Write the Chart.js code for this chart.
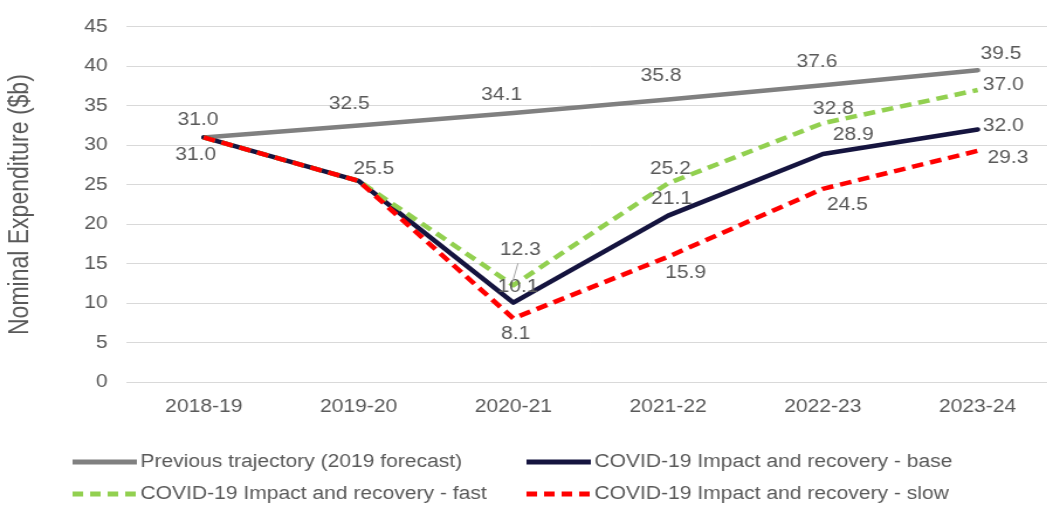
<!DOCTYPE html>
<html>
<head>
<meta charset="utf-8">
<script src="https://cdn.jsdelivr.net/npm/chart.js@4/dist/chart.umd.min.js"></script>
<style>
    html, body { margin: 0; padding: 0; background: #fff; overflow: hidden; }
    /* the reference is horizontally stretched, so draw narrow and scale it out */
    #wrap {
        position: absolute; left: 0; top: 0;
        width: 904px; height: 507px;
        transform: scaleX(1.17);
        transform-origin: 0 0;
    }
</style>
</head>
<body>
<div id="wrap"><canvas id="chart"></canvas></div>
<script>
// ── DATA ──
const categories = ['2018-19', '2019-20', '2020-21', '2021-22', '2022-23', '2023-24'];
const previous   = [31.0, 32.5, 34.1, 35.8, 37.6, 39.5];
const base       = [31.0, 25.5, 10.1, 21.1, 28.9, 32.0];
const fast       = [31.0, 25.5, 12.3, 25.2, 32.8, 37.0];
const slow       = [31.0, 25.5,  8.1, 15.9, 24.5, 29.3];
const yTicks     = [0, 5, 10, 15, 20, 25, 30, 35, 40, 45];

const seriesNames = [
    'Previous trajectory (2019 forecast)',
    'COVID-19 Impact and recovery - base',
    'COVID-19 Impact and recovery - fast',
    'COVID-19 Impact and recovery - slow'
];

// ── LABEL PLACEMENT (offset from the point, null = no label) ──
const labelOffsets = [
    [[-5, -17], [-8, -22], [-10, -18], [-6, -23], [-5, -23], [20, -16]],
    [[-7, 18], [13, -12], [4, -16], [3, -17], [26, -19], [22, -3]],
    [null, null, [6, -35], [2, -14], [9, -14], [22, -5]],
    [null, null, [2, 16], [15, 16], [21, 16], [26, 7]]
];
const leaderLines = { '2-2': true };

const TEXT = '#595959';
const FONT = 'Liberation Sans, Arial, sans-serif';

const dataLabels = {
    id: 'dataLabels',
    afterDatasetsDraw(chart) {
        const ctx = chart.ctx;
        ctx.save();
        ctx.font = '18px ' + FONT;
        ctx.fillStyle = TEXT;
        ctx.textAlign = 'center';
        ctx.textBaseline = 'middle';
        chart.data.datasets.forEach((ds, di) => {
            const meta = chart.getDatasetMeta(di);
            meta.data.forEach((pt, i) => {
                const off = labelOffsets[di][i];
                if (!off) return;
                const x = pt.x + off[0], y = pt.y + off[1];
                if (leaderLines[di + '-' + i]) {
                    ctx.strokeStyle = '#a6a6a6';
                    ctx.lineWidth = 1;
                    ctx.beginPath();
                    ctx.moveTo(x - 2, y + 13);
                    ctx.lineTo(pt.x - 0.5, pt.y - 4);
                    ctx.stroke();
                }
                ctx.fillText(ds.data[i].toFixed(1), x, y);
            });
        });
        ctx.restore();
    }
};

// legend in two columns, drawn under the axis
const gridLegend = {
    id: 'gridLegend',
    afterDraw(chart) {
        const ctx = chart.ctx;
        const cols = [62, 450];
        const rows = [462, 494];
        ctx.save();
        ctx.font = '18px ' + FONT;
        ctx.fillStyle = TEXT;
        ctx.textBaseline = 'middle';
        ctx.textAlign = 'left';
        chart.data.datasets.forEach((ds, i) => {
            const x = cols[i % 2], y = rows[Math.floor(i / 2)];
            ctx.strokeStyle = ds.borderColor;
            ctx.lineWidth = 5;
            ctx.setLineDash(ds.borderDash.length ? [9, 6] : []);
            ctx.lineCap = 'butt';
            ctx.beginPath();
            ctx.moveTo(x, y);
            ctx.lineTo(x + 55, y);
            ctx.stroke();
            ctx.setLineDash([]);
            ctx.fillText(ds.label, x + 58, y);
        });
        ctx.restore();
    }
};

function line(label, data, color, dash, order) {
    return {
        label,
        data,
        borderColor: color,
        backgroundColor: color,
        borderWidth: 4.5,
        borderDash: dash,
        borderCapStyle: dash.length ? 'butt' : 'round',
        borderJoinStyle: 'round',
        pointRadius: 0,
        tension: 0,
        order
    };
}

new Chart(document.getElementById('chart'), {
    type: 'line',
    data: {
        labels: categories,
        datasets: [
            line(seriesNames[0], previous, '#808080', [], 3),
            line(seriesNames[1], base, '#15143f', [], 2),
            line(seriesNames[2], fast, '#92d050', [10, 6], 1),
            line(seriesNames[3], slow, '#ff0000', [10, 6], 0)
        ]
    },
    options: {
        responsive: true,
        maintainAspectRatio: false,
        animation: false,
        layout: { padding: { top: 23, right: 0, bottom: 75, left: 0 } },
        plugins: {
            legend: { display: false },
            tooltip: { enabled: false }
        },
        scales: {
            x: {
                offset: true,
                grid: { display: false, drawTicks: false },
                border: { display: true, color: '#d9d9d9', width: 1 },
                ticks: { color: TEXT, font: { size: 18, family: FONT }, padding: 14, maxRotation: 0 }
            },
            y: {
                min: 0,
                max: 45,
                afterBuildTicks: scale => { scale.ticks = yTicks.map(v => ({ value: v })); },
                afterFit: scale => { scale.width = 108; },
                grid: { color: '#d9d9d9', lineWidth: 1, drawTicks: false },
                border: { display: false },
                ticks: { color: TEXT, font: { size: 18, family: FONT }, padding: 16 },
                title: {
                    display: true,
                    text: 'Nominal Expenditure ($b)',
                    color: TEXT,
                    font: { size: 23, family: FONT },
                    padding: { top: 4, bottom: 0 }
                }
            }
        }
    },
    plugins: [dataLabels, gridLegend]
});
</script>
</body>
</html>
